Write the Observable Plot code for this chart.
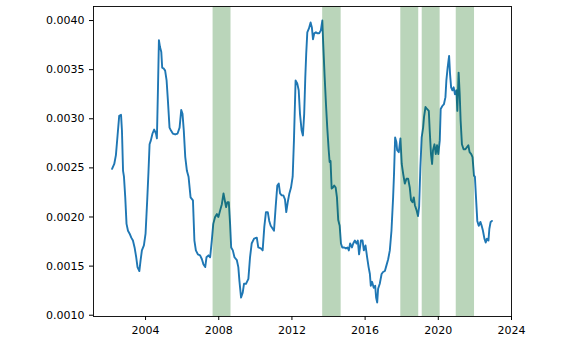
<!DOCTYPE html>
<html>
<head>
<meta charset="utf-8">
<script src="https://cdn.jsdelivr.net/npm/d3@7"></script>
<script src="https://cdn.jsdelivr.net/npm/@observablehq/plot@0.6"></script>
<style>
  html, body { margin: 0; padding: 0; background: #fff; }
  #chart svg { display: block; }
</style>
</head>
<body>
<div id="chart"></div>
<script>
const years = [
  2002.17, 2002.29, 2002.38, 2002.47, 2002.56, 2002.66, 2002.71, 2002.77, 2002.82, 2002.89,
  2002.96, 2003.04, 2003.13, 2003.22, 2003.31, 2003.40, 2003.49, 2003.56, 2003.66, 2003.73,
  2003.80, 2003.91, 2004.00, 2004.09, 2004.16, 2004.22, 2004.29, 2004.38, 2004.47, 2004.57,
  2004.62, 2004.68, 2004.73, 2004.79, 2004.86, 2004.91, 2005.00, 2005.07, 2005.15, 2005.22,
  2005.31, 2005.39, 2005.49, 2005.62, 2005.75, 2005.86, 2005.95, 2006.02, 2006.09, 2006.17,
  2006.26, 2006.35, 2006.46, 2006.59, 2006.67, 2006.75, 2006.86, 2006.98, 2007.08, 2007.16,
  2007.26, 2007.33, 2007.44, 2007.53, 2007.62, 2007.70, 2007.80, 2007.90, 2007.98, 2008.08,
  2008.17, 2008.26, 2008.35, 2008.40, 2008.47, 2008.55, 2008.62, 2008.68, 2008.77, 2008.86,
  2008.99, 2009.07, 2009.13, 2009.22, 2009.31, 2009.38, 2009.49, 2009.62, 2009.71, 2009.80,
  2009.93, 2010.08, 2010.16, 2010.30, 2010.40, 2010.49, 2010.58, 2010.68, 2010.76, 2010.84,
  2010.95, 2011.02, 2011.11, 2011.20, 2011.28, 2011.35, 2011.44, 2011.53, 2011.62, 2011.69,
  2011.77, 2011.86, 2011.95, 2012.04, 2012.11, 2012.20, 2012.29, 2012.37, 2012.44, 2012.53,
  2012.60, 2012.67, 2012.73, 2012.78, 2012.84, 2012.93, 2013.02, 2013.09, 2013.15, 2013.22,
  2013.31, 2013.40, 2013.49, 2013.58, 2013.66, 2013.71, 2013.79, 2013.86, 2013.93, 2014.01,
  2014.06, 2014.11, 2014.17, 2014.24, 2014.31, 2014.39, 2014.46, 2014.53, 2014.61, 2014.68,
  2014.75, 2014.86, 2014.95, 2015.04, 2015.11, 2015.18, 2015.28, 2015.35, 2015.44, 2015.53,
  2015.60, 2015.67, 2015.77, 2015.86, 2015.93, 2016.02, 2016.11, 2016.19, 2016.26, 2016.31,
  2016.38, 2016.47, 2016.55, 2016.60, 2016.66, 2016.71, 2016.80, 2016.90, 2016.98, 2017.08,
  2017.17, 2017.26, 2017.35, 2017.44, 2017.53, 2017.58, 2017.64, 2017.71, 2017.75, 2017.84,
  2017.93, 2018.00, 2018.08, 2018.17, 2018.26, 2018.35, 2018.44, 2018.51, 2018.59, 2018.66,
  2018.72, 2018.81, 2018.89, 2018.95, 2019.02, 2019.09, 2019.17, 2019.22, 2019.30, 2019.38,
  2019.48, 2019.53, 2019.60, 2019.66, 2019.71, 2019.79, 2019.86, 2019.93, 2020.00, 2020.08,
  2020.13, 2020.22, 2020.31, 2020.39, 2020.44, 2020.51, 2020.59, 2020.64, 2020.70, 2020.77,
  2020.84, 2020.91, 2020.99, 2021.04, 2021.11, 2021.17, 2021.22, 2021.29, 2021.38, 2021.48,
  2021.56, 2021.64, 2021.71, 2021.80, 2021.87, 2021.95, 2022.00, 2022.06, 2022.13, 2022.21,
  2022.30, 2022.37, 2022.44, 2022.52, 2022.59, 2022.66, 2022.74, 2022.79, 2022.86, 2022.93
];
const values = [
  0.00249, 0.00254, 0.00263, 0.00283, 0.00303, 0.00304, 0.00288, 0.00247, 0.00241, 0.00220,
  0.00193, 0.00186, 0.00183, 0.00179, 0.00176, 0.00169, 0.00159, 0.00149, 0.00145, 0.00156,
  0.00166, 0.00171, 0.00183, 0.00217, 0.00246, 0.00274, 0.00278, 0.00285, 0.00289, 0.00285,
  0.00280, 0.00332, 0.00380, 0.00373, 0.00368, 0.00352, 0.00351, 0.00349, 0.00339, 0.00319,
  0.00291, 0.00288, 0.00285, 0.00284, 0.00285, 0.00291, 0.00309, 0.00305, 0.00288, 0.00261,
  0.00247, 0.00241, 0.00220, 0.00217, 0.00176, 0.00166, 0.00162, 0.00161, 0.00157, 0.00152,
  0.00149, 0.00159, 0.00161, 0.00159, 0.00176, 0.00193, 0.00200, 0.00203, 0.00200, 0.00207,
  0.00213, 0.00224, 0.00215, 0.00210, 0.00215, 0.00215, 0.00193, 0.00169, 0.00166, 0.00159,
  0.00156, 0.00149, 0.00135, 0.00118, 0.00123, 0.00132, 0.00132, 0.00137, 0.00159, 0.00173,
  0.00178, 0.00179, 0.00169, 0.00168, 0.00166, 0.00190, 0.00205, 0.00205, 0.00196, 0.00191,
  0.00188, 0.00186, 0.00210, 0.00232, 0.00234, 0.00224, 0.00222, 0.00222, 0.00218, 0.00205,
  0.00215, 0.00224, 0.00230, 0.00241, 0.00278, 0.00339, 0.00336, 0.00329, 0.00305, 0.00288,
  0.00283, 0.00305, 0.00342, 0.00366, 0.00388, 0.00392, 0.00398, 0.00393, 0.00381, 0.00387,
  0.00388, 0.00387, 0.00387, 0.00390, 0.00400, 0.00376, 0.00342, 0.00315, 0.00291, 0.00268,
  0.00256, 0.00257, 0.00229, 0.00230, 0.00232, 0.00230, 0.00220, 0.00197, 0.00191, 0.00173,
  0.00169, 0.00169, 0.00168, 0.00169, 0.00166, 0.00173, 0.00169, 0.00173, 0.00176, 0.00173,
  0.00176, 0.00162, 0.00176, 0.00176, 0.00166, 0.00171, 0.00159, 0.00149, 0.00142, 0.00130,
  0.00134, 0.00128, 0.00130, 0.00118, 0.00113, 0.00127, 0.00132, 0.00142, 0.00144, 0.00145,
  0.00151, 0.00157, 0.00166, 0.00186, 0.00220, 0.00244, 0.00281, 0.00276, 0.00268, 0.00266,
  0.00280, 0.00254, 0.00244, 0.00234, 0.00239, 0.00239, 0.00230, 0.00217, 0.00215, 0.00220,
  0.00212, 0.00207, 0.00201, 0.00210, 0.00251, 0.00281, 0.00291, 0.00302, 0.00312, 0.00310,
  0.00308, 0.00288, 0.00264, 0.00254, 0.00268, 0.00274, 0.00264, 0.00273, 0.00264, 0.00278,
  0.00310, 0.00313, 0.00315, 0.00322, 0.00339, 0.00352, 0.00364, 0.00346, 0.00332, 0.00329,
  0.00332, 0.00325, 0.00329, 0.00308, 0.00347, 0.00325, 0.00298, 0.00274, 0.00269, 0.00269,
  0.00271, 0.00273, 0.00266, 0.00264, 0.00261, 0.00242, 0.00241, 0.00220, 0.00196, 0.00191,
  0.00195, 0.00191, 0.00186, 0.00178, 0.00174, 0.00178, 0.00176, 0.00188, 0.00195, 0.00196
];
const bandStarts = [2007.69, 2013.68, 2017.95, 2019.12, 2020.98];
const bandEnds   = [2008.67, 2014.69, 2018.93, 2020.10, 2021.98];
const xTicks = [2004, 2008, 2012, 2016, 2020, 2024];
const yTicks = [0.0010, 0.0015, 0.0020, 0.0025, 0.0030, 0.0035, 0.0040];

const series = years.map((y, i) => ({year: y, value: values[i]}));
const bands = bandStarts.map((s, i) => ({start: s, end: bandEnds[i]}));

const chart = Plot.plot({
  width: 585,
  height: 349,
  marginLeft: 93,
  marginRight: 74,
  marginTop: 6,
  marginBottom: 33,
  style: {fontFamily: "DejaVu Sans", fontSize: "11px", color: "#000", background: "#fff"},
  x: {domain: [2001.155, 2024.0], label: null},
  y: {domain: [0.000987, 0.004143], label: null},
  marks: [
    Plot.line(series, {x: "year", y: "value", stroke: "#1f77b4", strokeWidth: 1.9, strokeLinejoin: "round"}),
    Plot.rect(bands, {x1: "start", x2: "end", fill: "#006400", fillOpacity: 0.27}),
    Plot.frame({stroke: "#000", strokeWidth: 0.9}),
    Plot.axisX({ticks: xTicks, tickFormat: d => String(d), tickSize: 4, tickPadding: 6, label: null, stroke: "#000"}),
    Plot.axisY({ticks: yTicks, tickFormat: d3.format(".4f"), tickSize: 4, tickPadding: 5, label: null, stroke: "#000"})
  ]
});
document.getElementById("chart").appendChild(chart);
</script>
</body>
</html>
